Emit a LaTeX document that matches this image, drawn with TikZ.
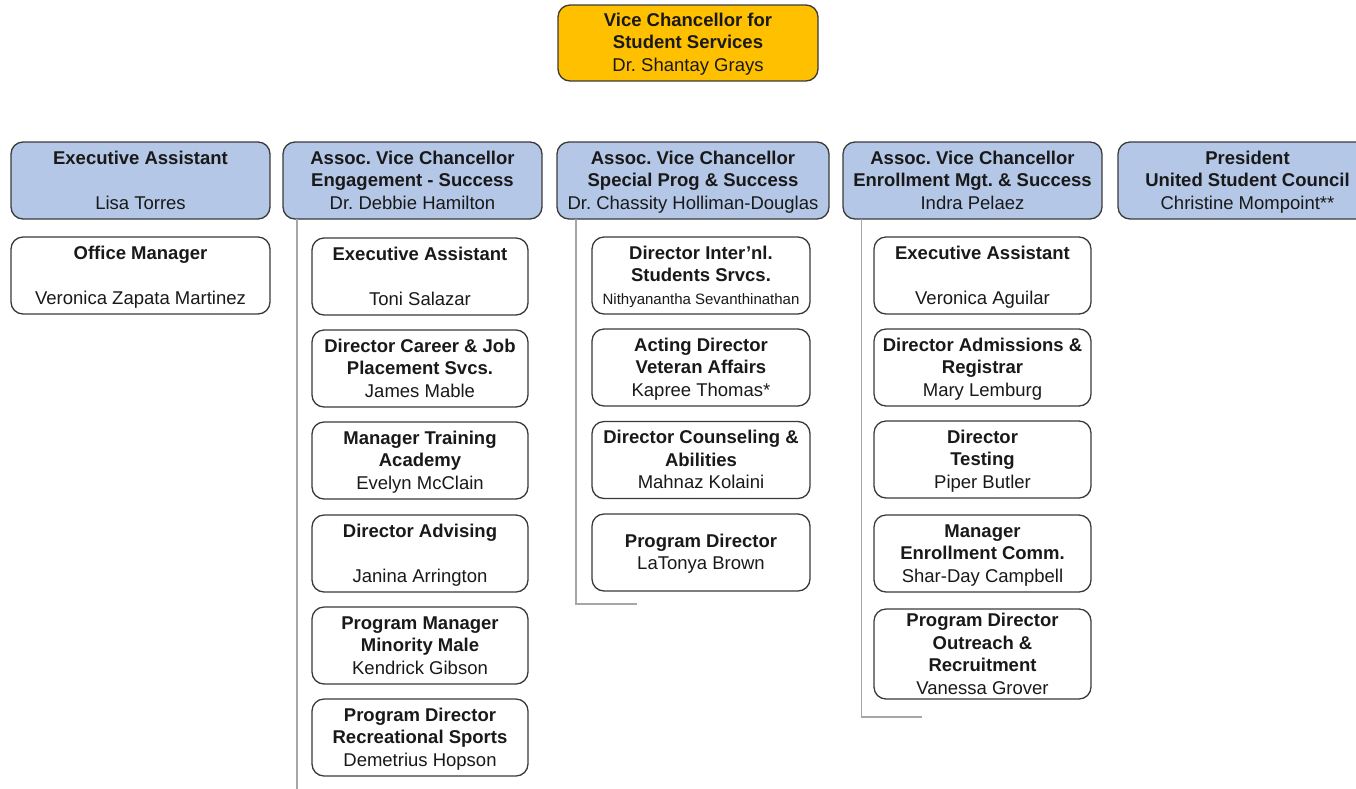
\documentclass[tikz,border=0pt]{standalone}
\usepackage{fontspec}
\setmainfont{Liberation Sans}
\frenchspacing
\definecolor{vcgold}{HTML}{FFC000}
\definecolor{avcblue}{HTML}{B4C7E7}
\definecolor{edge}{HTML}{3A3A3A}
\definecolor{linkgray}{HTML}{A6A6A6}
% height of the strut that fixes where a text block sits in its box
\newcommand\blockstrut{66.5pt}
\begin{document}
\begin{tikzpicture}[x=1pt,y=-1pt,
  rows/.code={\def\blockstrut{#1}},
  card/.style={draw=edge,line width=1.3pt,rounded corners=12pt,fill=white,
    inner sep=0pt,outer sep=0pt,align=center,text=black!90,
    font=\fontsize{18.5}{22.5}\selectfont,
    execute at begin node={\rule[-4.5pt]{0pt}{\blockstrut}}},
  blue/.style={card,fill=avcblue,minimum height=77pt},
  unit/.style={card,minimum height=77pt},
  link/.style={draw=linkgray,line width=1.2pt}]
\useasboundingbox (0,0) rectangle (1356,788);
\clip (0,0) rectangle (1356,788);

% top of the chart
\node[card,fill=vcgold,minimum width=260pt,minimum height=76pt,rows=65pt] (vc) at (688,43)
  {\textbf{Vice Chancellor for}\\ \textbf{Student Services}\\ Dr. Shantay Grays};

% direct reports
\node[blue,minimum width=259pt] (ea) at (140.5,180.5)
  {\textbf{Executive Assistant}\\ \mbox{}\\ Lisa Torres};
\node[blue,minimum width=259pt] (avc1) at (412.5,180.5)
  {\textbf{Assoc. Vice Chancellor}\\ \textbf{Engagement - Success}\\ Dr. Debbie Hamilton};
\node[blue,minimum width=272pt] (avc2) at (693,180.5)
  {\textbf{Assoc. Vice Chancellor}\\ \textbf{Special Prog \& Success}\\ Dr. Chassity Holliman-Douglas};
\node[blue,minimum width=259pt] (avc3) at (972.5,180.5)
  {\textbf{Assoc. Vice Chancellor}\\ \textbf{Enrollment Mgt. \& Success}\\ Indra Pelaez};
\node[blue,minimum width=259pt] (pres) at (1247.5,180.5)
  {\textbf{President}\\ \textbf{United Student Council}\\ Christine Mompoint**};

% office of the vice chancellor
\node[unit,minimum width=259pt] (om) at (140.5,275.5)
  {\textbf{Office Manager}\\ \mbox{}\\ Veronica Zapata Martinez};

% engagement and success
\node[unit,minimum width=216pt] (c1a) at (420,276.5)
  {\textbf{Executive Assistant}\\ \mbox{}\\ Toni Salazar};
\node[unit,minimum width=216pt] (c1b) at (420,368.5)
  {\textbf{Director Career \& Job}\\ \textbf{Placement Svcs.}\\ James Mable};
\node[unit,minimum width=216pt] (c1c) at (420,460.5)
  {\textbf{Manager Training}\\ \textbf{Academy}\\ Evelyn McClain};
\node[unit,minimum width=216pt] (c1d) at (420,553.5)
  {\textbf{Director Advising}\\ \mbox{}\\ Janina Arrington};
\node[unit,minimum width=216pt] (c1e) at (420,645.5)
  {\textbf{Program Manager}\\ \textbf{Minority Male}\\ Kendrick Gibson};
\node[unit,minimum width=216pt] (c1f) at (420,737.5)
  {\textbf{Program Director}\\ \textbf{Recreational Sports}\\ Demetrius Hopson};

% special programs and success
\node[unit,minimum width=218pt] (c2a) at (701,275.5)
  {\textbf{Director Inter’nl.}\\ \textbf{Students Srvcs.}\\ {\fontsize{15}{22.5}\selectfont Nithyanantha Sevanthinathan}};
\node[unit,minimum width=218pt] (c2b) at (701,367.5)
  {\textbf{Acting Director}\\ \textbf{Veteran Affairs}\\ Kapree Thomas*};
\node[unit,minimum width=218pt] (c2c) at (701,460)
  {\textbf{Director Counseling \&}\\ \textbf{Abilities}\\ Mahnaz Kolaini};
\node[unit,minimum width=218pt,rows=43.25pt] (c2d) at (701,552.5)
  {\textbf{Program Director}\\ LaTonya Brown};

% enrollment management and success
\node[unit,minimum width=217pt] (c3a) at (982.5,275.5)
  {\textbf{Executive Assistant}\\ \mbox{}\\ Veronica Aguilar};
\node[unit,minimum width=217pt] (c3b) at (982.5,367.5)
  {\textbf{Director Admissions \&}\\ \textbf{Registrar}\\ Mary Lemburg};
\node[unit,minimum width=217pt] (c3c) at (982.5,459.5)
  {\textbf{Director}\\ \textbf{Testing}\\ Piper Butler};
\node[unit,minimum width=217pt] (c3d) at (982.5,553.5)
  {\textbf{Manager}\\ \textbf{Enrollment Comm.}\\ Shar-Day Campbell};
\node[unit,minimum width=217pt,minimum height=90pt,rows=89.5pt] (c3e) at (982.5,654)
  {\textbf{Program Director}\\ \textbf{Outreach \&}\\ \textbf{Recruitment}\\ Vanessa Grover};

% reporting lines down each column
\coordinate (end1) at (297,790);
\coordinate (end2) at (637,604);
\coordinate (end3) at (921.5,717);
\draw[link] (avc1.south -| end1) -- (end1);
\draw[link] (avc2.south -| 576,0) |- (end2);
\draw[link] (avc3.south -| 861.5,0) |- (end3);
\end{tikzpicture}
\end{document}
